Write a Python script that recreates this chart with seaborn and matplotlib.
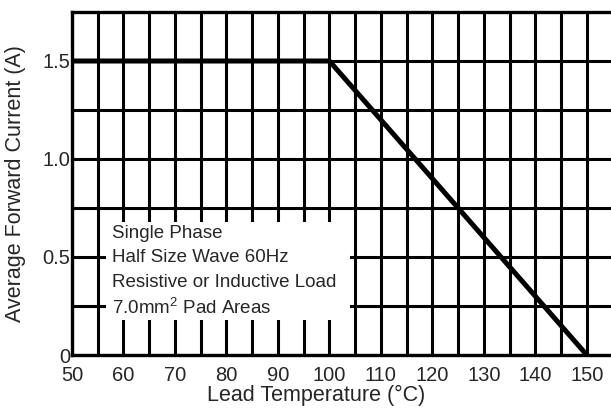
import numpy as np
import matplotlib
matplotlib.use('Agg')
import matplotlib.pyplot as plt
import seaborn as sns
from matplotlib.patches import Rectangle

# derating curve
temperature = [50, 100, 150]
current = [1.5, 1.5, 0.0]

x_ticks = [50, 60, 70, 80, 90, 100, 110, 120, 130, 140, 150]
y_ticks = [0, 0.5, 1.0, 1.5]
y_tick_labels = ['0', '0.5', '1.0', '1.5']
note_lines = ['Single Phase', 'Half Size Wave 60Hz',
              'Resistive or Inductive Load', '7.0mm$^2$ Pad Areas']

sns.set_style('white')
plt.rcParams['font.family'] = ['Liberation Sans', 'DejaVu Sans']
plt.rcParams['mathtext.fontset'] = 'custom'
plt.rcParams['mathtext.rm'] = 'Liberation Sans'

fig = plt.figure(figsize=(6.11, 4.15), dpi=100)
ax = fig.add_axes([72/611, 1 - 355/415, 1 - 72/611, (355 - 12)/415])

sns.lineplot(x=temperature, y=current, ax=ax, color='black', linewidth=3.6,
             zorder=4)

ax.set_xlim(50, 154.7)
ax.set_ylim(0, 1.75)
ax.set_xticks(x_ticks)
ax.set_xticks(np.arange(55, 155, 10), minor=True)
ax.set_yticks(y_ticks)
ax.set_yticklabels(y_tick_labels)
ax.set_yticks([0.25, 0.75, 1.25], minor=True)
ax.set_axisbelow(True)
ax.grid(True, which='both', color='black', linewidth=2.2)
ax.tick_params(which='both', length=0, labelsize=14.5)
ax.tick_params(axis='x', pad=8)
ax.tick_params(axis='y', pad=1)

for side in ['left', 'bottom', 'top']:
    ax.spines[side].set_linewidth(2.4)
    ax.spines[side].set_color('black')
ax.spines['right'].set_visible(False)

# white box behind the notes
ax.add_patch(Rectangle((56.7, 0.18), 104.0 - 56.7, 0.68 - 0.18,
                       facecolor='white', edgecolor='none', zorder=2))
for i, txt in enumerate(note_lines):
    ax.text(57.7, 0.622 - i * 0.127, txt, fontsize=13.5, va='center',
            ha='left', zorder=3)

ax.set_xlabel('Lead Temperature (°C)', fontsize=15.5)
ax.set_ylabel('Average Forward Current (A)', fontsize=15.5)
ax.xaxis.set_label_coords(0.453, -0.088)
ax.yaxis.set_label_coords(-0.085, 0.5)

fig.savefig('out.png', dpi=100)
